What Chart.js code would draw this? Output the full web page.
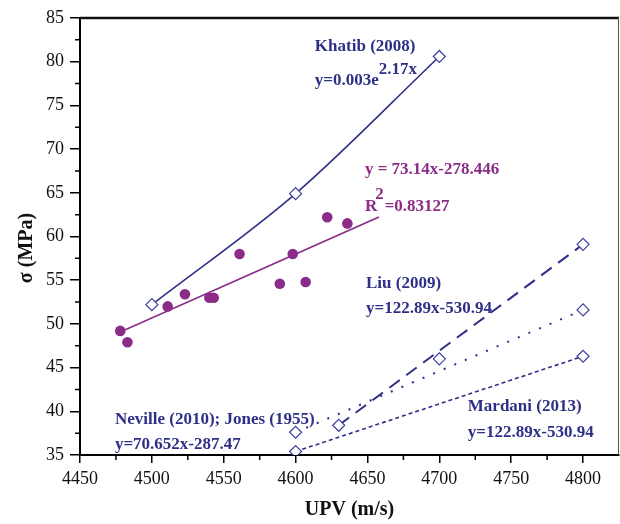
<!DOCTYPE html>
<html>
<head>
<meta charset="utf-8">
<script src="https://cdn.jsdelivr.net/npm/chart.js@4.4.1/dist/chart.umd.min.js"></script>
<style>
  html, body { margin: 0; padding: 0; background: #fff; overflow: hidden; }
  #wrap { width: 620px; height: 524px; position: relative; }
</style>
</head>
<body>
<div id="wrap"><canvas id="chartUpv"></canvas></div>
<script>
const xTicks = [4450, 4500, 4550, 4600, 4650, 4700, 4750, 4800];
const yTicks = [35, 40, 45, 50, 55, 60, 65, 70, 75, 80, 85];

// measured specimens
const measuredUpv = [4478, 4483, 4511, 4523, 4540, 4543, 4561, 4589, 4598, 4607, 4622, 4636];
const measuredSigma = [49.2, 47.9, 52.0, 53.4, 53.0, 53.0, 58.0, 54.6, 58.0, 54.8, 62.2, 61.5];
// linear fit of the measured data (end points)
const fitUpv = [4478, 4658];
const fitSigma = [49.07, 62.24];

// literature relations
const khatibUpv = [4500, 4600, 4700];
const khatibSigma = [52.2, 64.9, 80.6];
const liuUpv = [4630, 4700, 4800];
const liuSigma = [38.4, 46.0, 59.1];
const liuLineUpv = [4630, 4800];
const liuLineSigma = [38.4, 59.1];
const nevilleUpv = [4600, 4800];
const nevilleSigma = [37.6, 51.6];
const mardaniUpv = [4600, 4800];
const mardaniSigma = [35.4, 46.3];

const navy = "#2e3087";
const diamondBlue = "#3d40a0";
const purple = "#8a2c88";

const toPoints = (xs, ys) => xs.map((x, i) => ({ x: x, y: ys[i] }));

// text notes in data coordinates
const notes = [
    { x: 4613.4, y: 81.7, color: navy, parts: [["Khatib (2008)", 0]] },
    { x: 4613.4, y: 77.8, color: navy, parts: [["y=0.003e", 0], ["2.17x", -11]] },
    { x: 4648.2, y: 67.6, color: purple, parts: [["y = 73.14x-278.446", 0]] },
    { x: 4648.2, y: 63.4, color: purple, parts: [["R", 0], ["2", -12, -2], ["=0.83127", 0, 1]] },
    { x: 4649.0, y: 54.6, color: navy, parts: [["Liu (2009)", 0]] },
    { x: 4649.0, y: 51.7, color: navy, parts: [["y=122.89x-530.94", 0]] },
    { x: 4719.8, y: 40.5, color: navy, parts: [["Mardani (2013)", 0]] },
    { x: 4719.8, y: 37.6, color: navy, parts: [["y=122.89x-530.94", 0]] },
    { x: 4474.3, y: 39.1, color: navy, parts: [["Neville (2010); Jones (1955)", 0]] },
    { x: 4474.3, y: 36.15, color: navy, parts: [["y=70.652x-287.47", 0]] },
];

const framePlugin = {
    id: "frame",
    afterDraw(chart) {
        const { ctx, chartArea, scales } = chart;
        const sx = scales.x, sy = scales.y;
        ctx.save();
        // minor ticks
        ctx.strokeStyle = "#000";
        ctx.lineWidth = 1.5;
        ctx.beginPath();
        for (let i = 0; i < xTicks.length - 1; i++) {
            const px = sx.getPixelForValue((xTicks[i] + xTicks[i + 1]) / 2);
            ctx.moveTo(px, chartArea.bottom);
            ctx.lineTo(px, chartArea.bottom + 5);
        }
        for (let i = 0; i < yTicks.length - 1; i++) {
            const py = sy.getPixelForValue((yTicks[i] + yTicks[i + 1]) / 2);
            ctx.moveTo(chartArea.left, py);
            ctx.lineTo(chartArea.left - 5, py);
        }
        ctx.stroke();
        // top and right border
        ctx.lineWidth = 2.5;
        ctx.strokeStyle = "#111";
        ctx.beginPath();
        ctx.moveTo(chartArea.left, chartArea.top);
        ctx.lineTo(chartArea.right, chartArea.top);
        ctx.stroke();
        ctx.lineWidth = 1;
        ctx.strokeStyle = "#555";
        ctx.beginPath();
        ctx.moveTo(chartArea.right - 0.5, chartArea.top);
        ctx.lineTo(chartArea.right - 0.5, chartArea.bottom);
        ctx.stroke();

        // y axis title
        ctx.fillStyle = "#111";
        ctx.font = "bold 20px 'Liberation Serif', 'Times New Roman', serif";
        ctx.textAlign = "center";
        ctx.textBaseline = "middle";
        ctx.translate(27, 248);
        ctx.rotate(-Math.PI / 2);
        ctx.fillText("σ (MPa)", 0, 0);
        ctx.restore();

        // notes
        ctx.save();
        ctx.font = "bold 17px 'Liberation Serif', 'Times New Roman', serif";
        ctx.textAlign = "left";
        ctx.textBaseline = "middle";
        notes.forEach((n) => {
            let px = sx.getPixelForValue(n.x);
            const py = sy.getPixelForValue(n.y);
            ctx.fillStyle = n.color;
            n.parts.forEach((p) => {
                px += p[2] || 0;
                ctx.fillText(p[0], px, py + p[1]);
                px += ctx.measureText(p[0]).width;
            });
        });
        ctx.restore();
    },
};

const lineBase = { showLine: true, pointRadius: 0, fill: false, borderColor: navy, borderWidth: 1.6, order: 2 };
const diamondBase = {
    showLine: false,
    pointStyle: "rectRot",
    pointRadius: 6,
    pointBackgroundColor: "#fff",
    pointBorderColor: diamondBlue,
    pointBorderWidth: 1.2,
    order: 0,
};

document.addEventListener("DOMContentLoaded", function () {
    const ctx = document.getElementById("chartUpv");
    new Chart(ctx, {
        type: "scatter",
        data: {
            datasets: [
                { ...diamondBase, label: "Khatib (2008)", data: toPoints(khatibUpv, khatibSigma) },
                { ...diamondBase, label: "Liu (2009)", data: toPoints(liuUpv, liuSigma) },
                { ...diamondBase, label: "Neville (2010); Jones (1955)", data: toPoints(nevilleUpv, nevilleSigma) },
                { ...diamondBase, label: "Mardani (2013)", data: toPoints(mardaniUpv, mardaniSigma) },
                {
                    label: "Measured",
                    data: toPoints(measuredUpv, measuredSigma),
                    pointRadius: 5.3,
                    pointBackgroundColor: purple,
                    pointBorderWidth: 0,
                    order: 1,
                },
                { ...lineBase, label: "Khatib curve", data: toPoints(khatibUpv, khatibSigma), tension: 0.4, cubicInterpolationMode: "monotone" },
                { ...lineBase, label: "Fit", data: toPoints(fitUpv, fitSigma), borderColor: purple, borderWidth: 1.6 },
                { ...lineBase, label: "Liu line", data: toPoints(liuLineUpv, liuLineSigma), borderDash: [13, 8], borderWidth: 2 },
                { ...lineBase, label: "Neville line", data: toPoints(nevilleUpv, nevilleSigma), borderDash: [2, 9.5], borderWidth: 2 },
                { ...lineBase, label: "Mardani line", data: toPoints(mardaniUpv, mardaniSigma), borderDash: [4, 3], borderWidth: 1.6 },
            ],
        },
        options: {
            responsive: true,
            maintainAspectRatio: false,
            animation: false,
            layout: { autoPadding: false, padding: { top: 18, right: 1, left: 0, bottom: 0 } },
            plugins: { legend: { display: false }, tooltip: { enabled: false } },
            scales: {
                x: {
                    type: "linear",
                    min: 4450,
                    max: 4825,
                    afterBuildTicks: (scale) => {
                        scale.ticks = xTicks.map((v) => ({ value: v }));
                    },
                    afterFit: (scale) => {
                        scale.height = 69;
                        scale.paddingLeft = 0;
                        scale.paddingRight = 0;
                    },
                    grid: { drawOnChartArea: false, drawTicks: true, tickLength: 8, color: "#000", lineWidth: 1.5 },
                    border: { display: true, color: "#000", width: 2 },
                    ticks: {
                        padding: 5,
                        color: "#111",
                        font: { family: "'Liberation Serif', 'Times New Roman', serif", size: 18 },
                        maxRotation: 0,
                        autoSkip: false,
                        callback: (v) => String(v),
                    },
                    title: {
                        display: true,
                        text: "UPV (m/s)",
                        color: "#111",
                        font: { family: "'Liberation Serif', 'Times New Roman', serif", size: 20, weight: "bold" },
                        padding: { top: 0, bottom: 2 },
                    },
                },
                y: {
                    type: "linear",
                    min: 35,
                    max: 85,
                    afterBuildTicks: (scale) => {
                        scale.ticks = yTicks.map((v) => ({ value: v }));
                    },
                    afterFit: (scale) => {
                        scale.width = 80;
                        scale.paddingTop = 0;
                        scale.paddingBottom = 0;
                    },
                    grid: { drawOnChartArea: false, drawTicks: true, tickLength: 10, color: "#000", lineWidth: 1.5 },
                    border: { display: true, color: "#000", width: 2 },
                    ticks: {
                        padding: 6,
                        color: "#111",
                        font: { family: "'Liberation Serif', 'Times New Roman', serif", size: 18 },
                        autoSkip: false,
                        callback: (v) => String(v),
                    },
                },
            },
        },
        plugins: [framePlugin],
    });
});
</script>
</body>
</html>
